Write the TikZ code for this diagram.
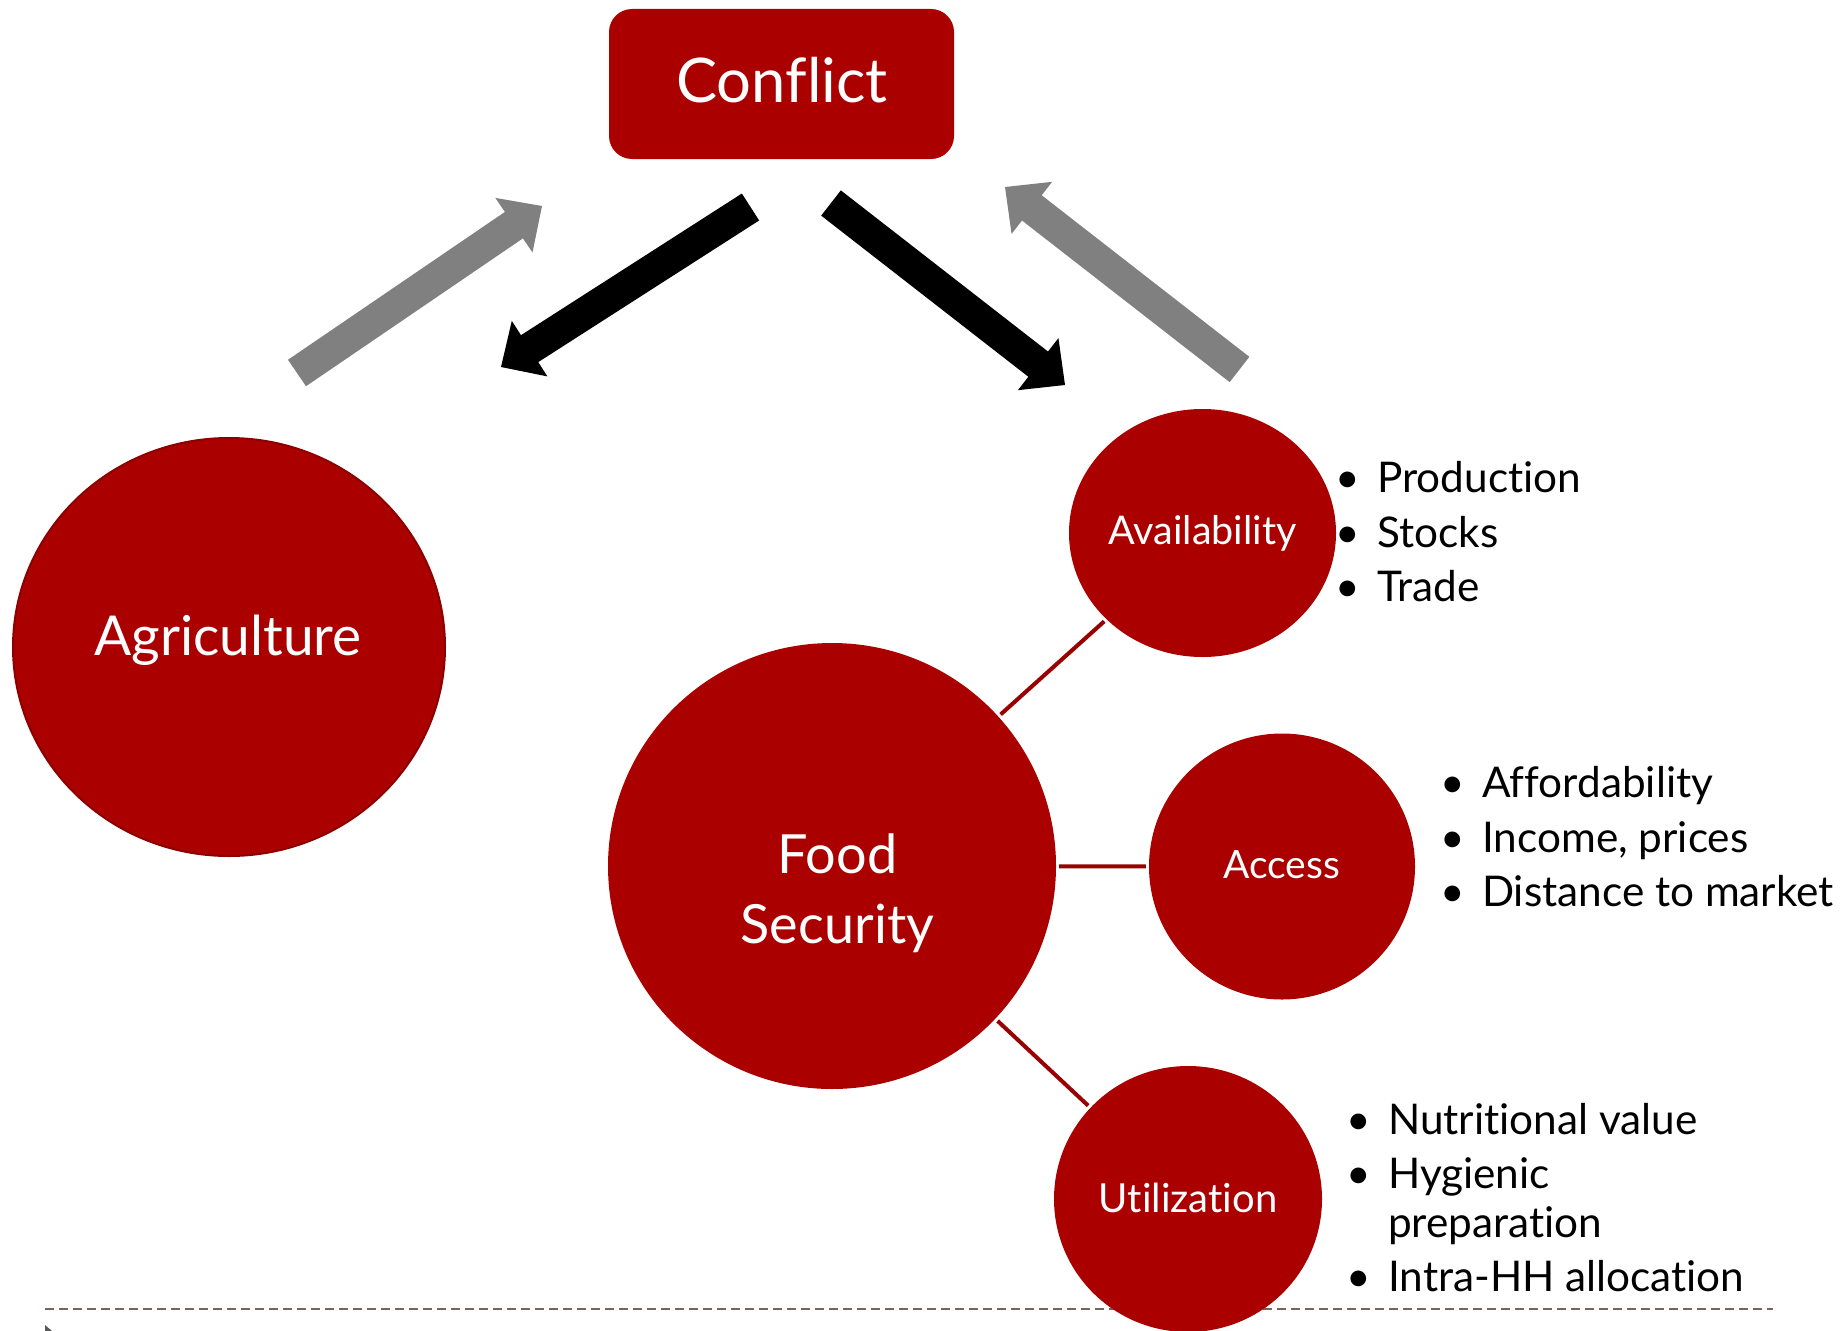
\documentclass[tikz,border=0pt]{standalone}
\usepackage{fontspec}
\setmainfont{Lato}[Ligatures=NoCommon]
\usetikzlibrary{shapes.geometric,calc}
\definecolor{cred}{HTML}{AA0000}
\definecolor{cedge}{HTML}{8C0000}
\definecolor{cline}{HTML}{990000}
\definecolor{cgray}{HTML}{808080}
\definecolor{cdash}{HTML}{76665E}
\newcommand\blockarr[3]{%
  \coordinate (#2b) at ($(#3)!34pt!(#2)$);
  \fill[#1] ($(#2)!16pt!90:(#3)$)
    -- ($(#2b)!16pt!90:(#3)$)
    -- ($(#2b)!33pt!90:(#3)$)
    -- (#3)
    -- ($(#2b)!33pt!-90:(#3)$)
    -- ($(#2b)!16pt!-90:(#3)$)
    -- ($(#2)!16pt!-90:(#3)$) -- cycle;}
\begin{document}
\begin{tikzpicture}[x=1pt,y=-1pt,
  disc/.style={ellipse, fill=cred, inner sep=0pt},
  wlab/.style={text=white, inner sep=0pt, anchor=base},
  blab/.style={text=black, inner sep=0pt, anchor=base west, font=\fontsize{42.3}{50}\selectfont},
  link/.style={draw=cline, line width=4pt, shorten <=3pt, shorten >=3pt}
]
\clip (0,0) rectangle (1846,1330);
\fill[white] (0,0) rectangle (1846,1330);

% dashed footer line and small marker
\coordinate (dl) at (45,1309);
\coordinate (dr) at (1773,1309);
\draw[cdash, line width=2.2pt, dash pattern=on 9pt off 5pt] (dl) -- (dr);
\fill[black!65] (45,1325) -- (52,1331) -- (45,1337) -- cycle;

% Conflict box
\node[fill=cred, rounded corners=23pt, minimum width=345pt, minimum height=150pt, inner sep=0pt] (conflict) at (781.5,84) {};
\node[wlab, font=\fontsize{61.5}{70}\selectfont] (conflictT) at (782,102) {Conflict};

% arrows
\coordinate (a1t) at (297,373);   \coordinate (a1h) at (542,206);
\coordinate (a2t) at (750.5,207); \coordinate (a2h) at (501,367);
\coordinate (a3t) at (831,203);   \coordinate (a3h) at (1065,385);
\coordinate (a4t) at (1239.5,369.5); \coordinate (a4h) at (1005,187);
\blockarr{cgray}{a1t}{a1h}
\blockarr{black}{a2t}{a2h}
\blockarr{black}{a3t}{a3h}
\blockarr{cgray}{a4t}{a4h}

% circles
\node[disc, draw=cedge, line width=2pt, minimum width=432pt, minimum height=418pt] (agri) at (229,647) {};
\node[disc, minimum width=448pt, minimum height=446pt] (food) at (832,866) {};
\node[disc, minimum width=267pt, minimum height=248pt] (avail) at (1202.5,533) {};
\node[disc, minimum width=266pt, minimum height=266pt] (access) at (1282,866.5) {};
\node[disc, minimum width=268pt, minimum height=266pt] (util) at (1188,1199) {};

% connectors
\draw[link] (food) -- (avail);
\draw[link] (food) -- (access);
\draw[link] (food) -- (util);

% circle labels
\node[wlab, font=\fontsize{55}{65}\selectfont] (agriT) at (228,655) {Agriculture};
\node[wlab, font=\fontsize{54}{64}\selectfont] (foodT1) at (837.5,873) {Food};
\node[wlab, font=\fontsize{54}{64}\selectfont] (foodT2) at (837.5,943) {Security};
\node[wlab, font=\fontsize{39.5}{48}\selectfont] (availT) at (1202.5,544) {Availability};
\node[wlab, font=\fontsize{39}{47}\selectfont] (accessT) at (1281.5,878) {Access};
\node[wlab, font=\fontsize{40}{48}\selectfont] (utilT) at (1188,1212) {Utilization};

% bullet lists
\newcommand\bdot{\llap{\textbullet\hspace{17pt}}}
\node[blab] (av1) at (1377,492) {\bdot Production};
\node[blab] (av2) at (1377,547) {\bdot Stocks};
\node[blab] (av3) at (1377,601) {\bdot Trade};

\node[blab] (ac1) at (1482,797) {\bdot Affordability};
\node[blab] (ac2) at (1482,852) {\bdot Income, prices};
\node[blab] (ac3) at (1482,906) {\bdot Distance to market};

\node[blab] (ut1) at (1388,1134) {\bdot Nutritional value};
\node[blab] (ut2) at (1388,1188) {\bdot Hygienic};
\node[blab] (ut3) at (1388,1237) {preparation};
\node[blab] (ut4) at (1388,1291) {\bdot Intra-HH allocation};
\end{tikzpicture}
\end{document}
